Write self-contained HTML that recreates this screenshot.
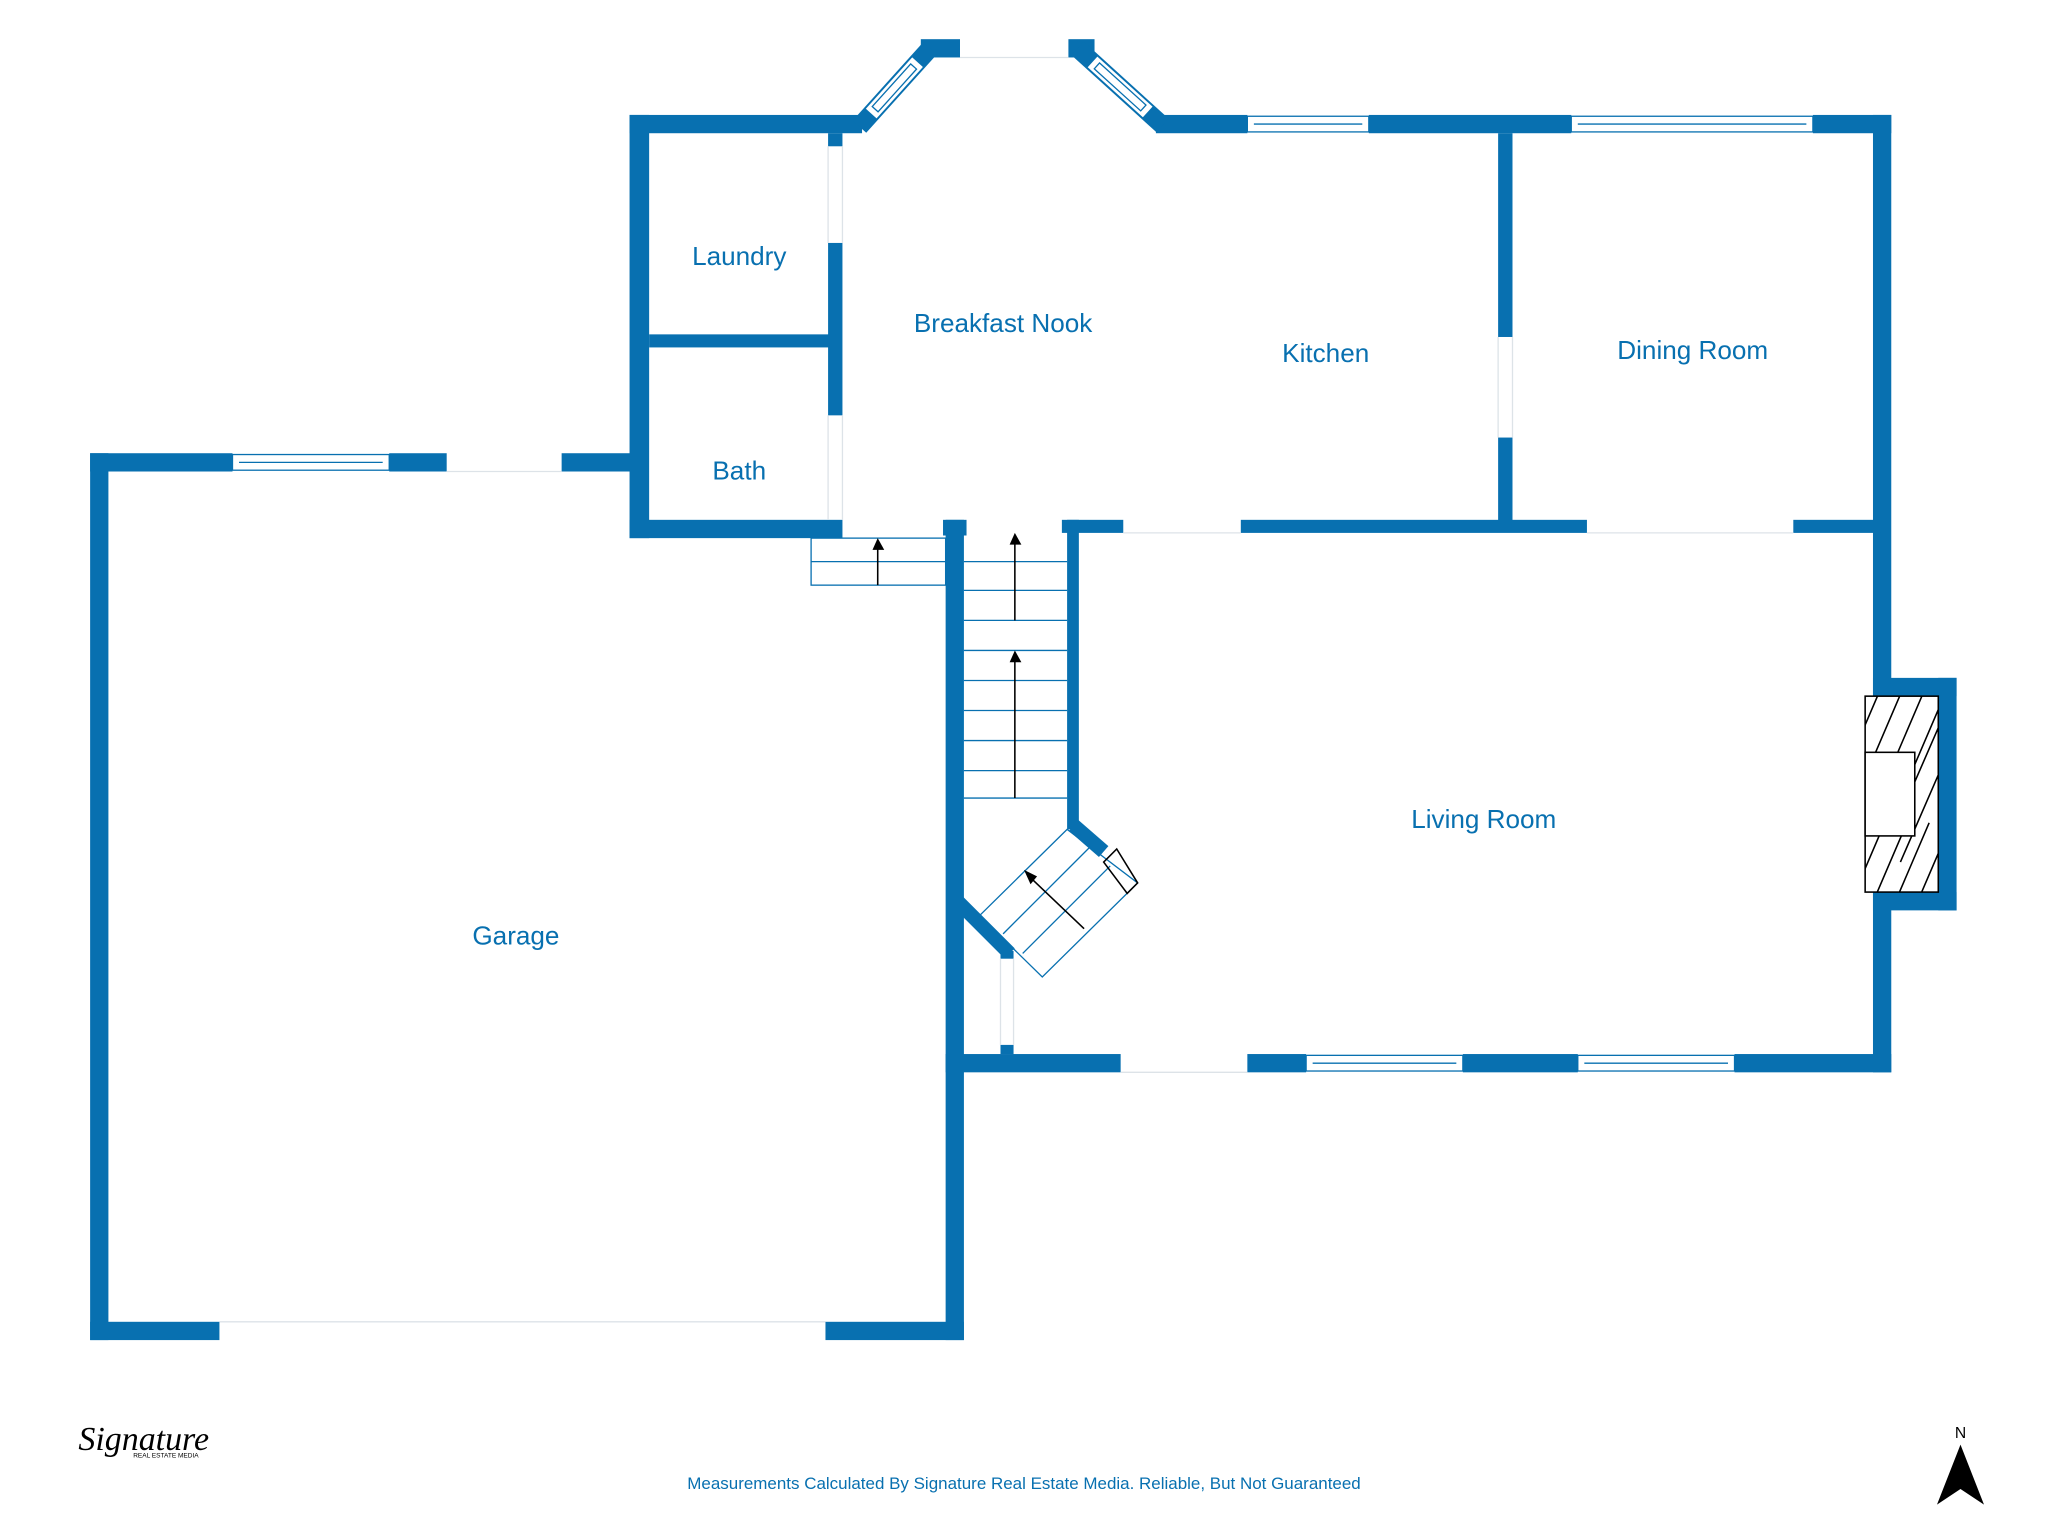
<!DOCTYPE html>
<html><head><meta charset="utf-8"><style>html,body{margin:0;padding:0;background:#fff}svg{display:block}</style></head>
<body>
<svg width="2048" height="1536" viewBox="0 0 1568 1176" xmlns="http://www.w3.org/2000/svg">
<defs>
<clipPath id="fp"><rect x="1428" y="533" width="56" height="150"/></clipPath>
</defs>
<g fill="#0870b0">
<rect x="69" y="347" width="14" height="679"/>
<rect x="69" y="347" width="109" height="14"/>
<rect x="298" y="347" width="44" height="14"/>
<rect x="430" y="347" width="60" height="14"/>
<rect x="69" y="1012" width="99" height="14"/>
<rect x="632" y="1012" width="106" height="14"/>
<rect x="724" y="398" width="14" height="628"/>
<rect x="482" y="88" width="15" height="324"/>
<rect x="482" y="88" width="178" height="14"/>
<rect x="482" y="398" width="163" height="14"/>
<rect x="634" y="102" width="11" height="10"/>
<rect x="634" y="186" width="11" height="132"/>
<rect x="497" y="256" width="143" height="10"/>
<rect x="885" y="88" width="70" height="14"/>
<rect x="1048" y="88" width="155" height="14"/>
<rect x="1388" y="88" width="60" height="14"/>
<rect x="705" y="30" width="30" height="14"/>
<rect x="818" y="30" width="20" height="14"/>
<rect x="1434" y="88" width="14" height="733"/>
<rect x="1434" y="519" width="64" height="14"/>
<rect x="1434" y="683" width="64" height="14"/>
<rect x="1484" y="519" width="14" height="178"/>
<rect x="1147" y="102" width="11" height="156"/>
<rect x="1147" y="335" width="11" height="70"/>
<rect x="813" y="398" width="47" height="10"/>
<rect x="950" y="398" width="265" height="10"/>
<rect x="1373" y="398" width="67" height="10"/>
<rect x="722" y="398" width="18" height="12"/>
<rect x="817" y="398" width="9" height="237"/>
<rect x="724" y="807" width="134" height="14"/>
<rect x="955" y="807" width="45" height="14"/>
<rect x="1120" y="807" width="88" height="14"/>
<rect x="1328" y="807" width="120" height="14"/>
<rect x="766" y="728" width="10" height="6"/>
<rect x="766" y="800" width="10" height="7"/>
</g>
<g stroke="#0870b0" fill="none">
<line x1="658" y1="97" x2="712" y2="37" stroke-width="14"/>
<line x1="825" y1="37" x2="890" y2="96" stroke-width="14"/>
<line x1="822" y1="632" x2="845" y2="652" stroke-width="11"/>
<line x1="733" y1="690" x2="773" y2="730" stroke-width="11"/>
</g>
<!-- bay windows -->
<g fill="#fff" stroke="#0870b0" stroke-width="1">
<g transform="translate(658,97) rotate(-48)">
<rect x="13" y="-6" width="54" height="12"/><rect x="18" y="-3" width="44" height="6"/>
</g>
<g transform="translate(825,37) rotate(42.2)">
<rect x="15" y="-6" width="58" height="12"/><rect x="20" y="-3" width="48" height="6"/>
</g>
</g>
<g fill="#fff" stroke="#0870b0" stroke-width="1">
<rect x="178" y="348" width="120" height="12"/><line x1="183" y1="354" x2="293" y2="354"/>
<rect x="955" y="89" width="93" height="12"/><line x1="960" y1="95" x2="1043" y2="95"/>
<rect x="1203" y="89" width="185" height="12"/><line x1="1208" y1="95" x2="1383" y2="95"/>
<rect x="1000" y="808" width="120" height="12"/><line x1="1005" y1="814" x2="1115" y2="814"/>
<rect x="1208" y="808" width="120" height="12"/><line x1="1213" y1="814" x2="1323" y2="814"/>
</g>
<g stroke="#dde3e8" stroke-width="1" fill="none">
<line x1="735" y1="44" x2="818" y2="44"/>
<line x1="168" y1="1012" x2="632" y2="1012"/>
<line x1="342" y1="361" x2="430" y2="361"/>
<line x1="766" y1="734" x2="766" y2="800"/><line x1="776" y1="734" x2="776" y2="800"/>
<line x1="634" y1="112" x2="634" y2="186"/><line x1="645" y1="112" x2="645" y2="186"/>
<line x1="634" y1="318" x2="634" y2="398"/><line x1="645" y1="318" x2="645" y2="398"/>
<line x1="1147" y1="258" x2="1147" y2="335"/><line x1="1158" y1="258" x2="1158" y2="335"/>
<line x1="860" y1="408" x2="950" y2="408"/>
<line x1="1215" y1="408" x2="1373" y2="408"/>
<line x1="858" y1="821" x2="955" y2="821"/>
</g>
<g stroke="#0870b0" stroke-width="1" fill="none">
<rect x="621" y="412" width="103" height="36"/>
<line x1="621" y1="430" x2="724" y2="430"/>
<line x1="738" y1="430" x2="817" y2="430"/>
<line x1="738" y1="452" x2="817" y2="452"/>
<line x1="738" y1="475" x2="817" y2="475"/>
<line x1="738" y1="498" x2="817" y2="498"/>
<line x1="738" y1="521" x2="817" y2="521"/>
<line x1="738" y1="544" x2="817" y2="544"/>
<line x1="738" y1="567" x2="817" y2="567"/>
<line x1="738" y1="590" x2="817" y2="590"/>
<line x1="738" y1="611" x2="817" y2="611"/>
<polygon points="817,635 871,676 798,748 750,701"/>
<line x1="768" y1="715" x2="835" y2="648"/>
<line x1="783" y1="730" x2="850" y2="663"/>
</g>
<g stroke="#000" stroke-width="1.2" fill="none">
<line x1="672" y1="448" x2="672" y2="418"/>
<line x1="777" y1="475" x2="777" y2="414"/>
<line x1="777" y1="611" x2="777" y2="504"/>
<line x1="830" y1="711" x2="789" y2="672"/>
<polygon points="855,650 871,676 863,684 845,660"/>
<rect x="1428" y="533" width="56" height="150" fill="#fff"/>
<g clip-path="url(#fp)">
<path d="M1413,590 L1443,520 M1430,590 L1460,520 M1447,590 L1477,520 M1464,590 L1494,520 M1448,640 L1498,525 M1455,660 L1505,545 M1413,700 L1443,630 M1430,700 L1460,630 M1447,700 L1477,630 M1464,700 L1494,630"/>
</g>
<rect x="1428" y="576" width="38" height="64" fill="#fff"/>
</g>
<g fill="#000">
<polygon points="672,412 668,421 677,421"/>
<polygon points="777,408 773,417 782,417"/>
<polygon points="777,498 773,507 782,507"/>
<polygon points="784,666 789,677 794,671"/>
<polygon points="1501,1106 1483,1152 1501,1140 1519,1152"/>
</g>
<g font-family="Liberation Sans, sans-serif" fill="#0870b0" font-size="20" text-anchor="middle">
<text x="566" y="203">Laundry</text>
<text x="566" y="367">Bath</text>
<text x="768" y="254">Breakfast Nook</text>
<text x="1015" y="277">Kitchen</text>
<text x="1296" y="275">Dining Room</text>
<text x="1136" y="634">Living Room</text>
<text x="395" y="723">Garage</text>
<text x="784" y="1140" font-size="13">Measurements Calculated By Signature Real Estate Media. Reliable, But Not Guaranteed</text>
</g>
<text x="1501" y="1101" font-family="Liberation Sans, sans-serif" font-size="12" text-anchor="middle" fill="#000">N</text>
<text x="60" y="1110" font-family="Liberation Serif, serif" font-style="italic" font-size="26" fill="#000">Signature</text>
<text x="102" y="1116" font-family="Liberation Sans, sans-serif" font-size="5" fill="#000">REAL ESTATE MEDIA</text>
</svg>
</body></html>
